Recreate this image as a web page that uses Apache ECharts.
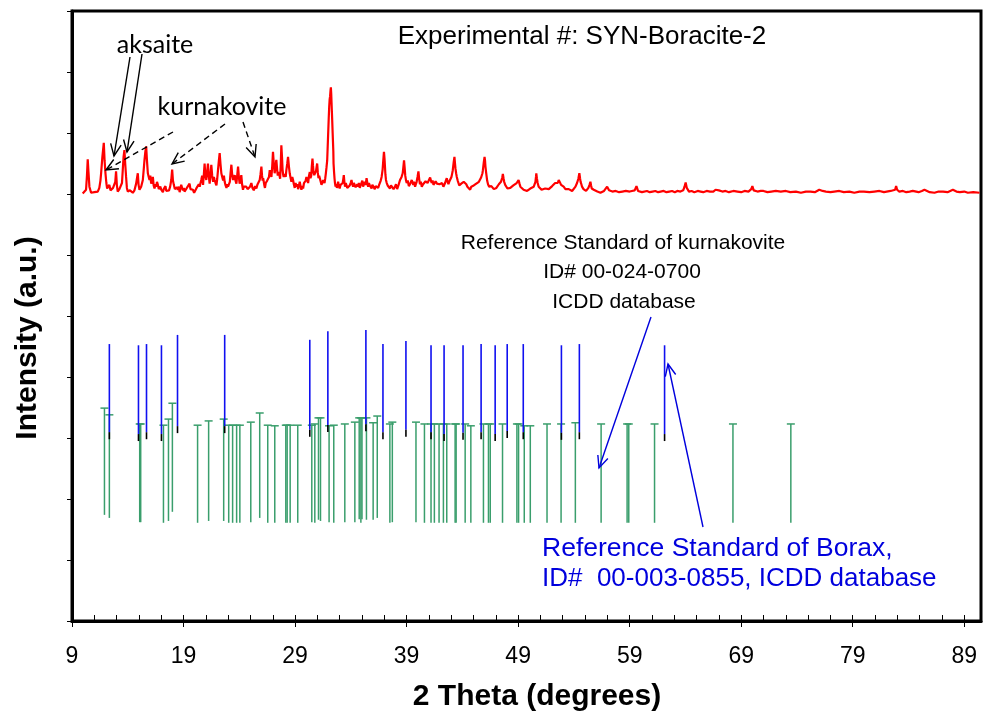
<!DOCTYPE html>
<html>
<head>
<meta charset="utf-8">
<script src="https://cdn.jsdelivr.net/npm/echarts@6/dist/echarts.min.js"></script>
<style>
  body { margin: 0; background: #fff; }
  #chart { width: 988px; height: 717px; }
</style>
</head>
<body>
<div id="chart"></div>
<script>
// experimental pattern, [2theta, intensity]
var expPattern = [
  [9.96,7.01],[10.1,7.03],[10.26,7.07],[10.34,7.30],[10.41,7.57],[10.48,7.35],[10.56,7.12],[10.71,7.02],[10.85,7.04],[11.0,7.03],
  [11.15,7.06],[11.31,7.04],[11.45,7.10],[11.55,7.22],[11.61,7.34],[11.72,7.60],[11.85,7.84],[11.92,7.55],[12.0,7.34],[12.08,7.18],
  [12.15,7.09],[12.25,7.12],[12.35,7.15],[12.45,7.06],[12.56,7.04],[12.68,7.10],[12.8,7.09],[12.88,7.20],[12.95,7.37],[13.02,7.15],
  [13.1,7.04],[13.25,7.08],[13.4,7.07],[13.48,7.18],[13.55,7.39],[13.62,7.60],[13.7,7.72],[13.77,7.50],[13.85,7.28],[13.92,7.10],
  [14.0,7.04],[14.1,7.07],[14.2,7.06],[14.32,7.03],[14.45,7.02],[14.6,7.06],[14.75,7.17],[14.82,7.25],[14.9,7.34],[14.97,7.15],
  [15.05,7.07],[15.2,7.12],[15.35,7.23],[15.43,7.40],[15.5,7.56],[15.58,7.70],[15.65,7.78],[15.72,7.55],[15.8,7.34],[15.88,7.28],
  [15.95,7.23],[16.02,7.30],[16.1,7.17],[16.18,7.22],[16.25,7.28],[16.32,7.14],[16.4,7.09],[16.48,7.16],[16.55,7.12],[16.62,7.20],
  [16.7,7.15],[16.78,7.08],[16.85,7.05],[16.92,7.12],[17.0,7.07],[17.08,7.10],[17.15,7.03],[17.22,7.08],[17.3,7.09],[17.38,7.13],
  [17.45,7.05],[17.52,7.02],[17.6,7.04],[17.7,7.06],[17.8,7.12],[17.9,7.23],[17.98,7.40],[18.05,7.22],[18.13,7.15],[18.22,7.08],
  [18.3,7.05],[18.4,7.11],[18.49,7.07],[18.57,7.12],[18.65,7.03],[18.72,7.09],[18.79,7.15],[18.87,7.10],[18.95,7.06],[19.02,7.10],
  [19.09,7.04],[19.2,7.07],[19.3,7.10],[19.42,7.12],[19.54,7.17],[19.62,7.08],[19.7,7.05],[19.77,7.11],[19.84,7.07],[19.95,7.02],
  [20.05,7.04],[20.17,7.10],[20.29,7.09],[20.37,7.16],[20.45,7.12],[20.52,7.18],[20.59,7.23],[20.67,7.30],[20.75,7.15],[20.82,7.32],
  [20.89,7.50],[20.96,7.30],[21.04,7.23],[21.11,7.35],[21.19,7.50],[21.26,7.30],[21.34,7.17],[21.41,7.30],[21.49,7.48],[21.57,7.30],
  [21.65,7.20],[21.72,7.28],[21.79,7.23],[21.87,7.18],[21.95,7.14],[22.02,7.25],[22.09,7.39],[22.17,7.55],[22.24,7.67],[22.31,7.50],
  [22.39,7.34],[22.47,7.28],[22.55,7.22],[22.62,7.30],[22.69,7.20],[22.77,7.14],[22.85,7.10],[22.92,7.16],[22.99,7.12],[23.07,7.15],
  [23.15,7.20],[23.22,7.35],[23.29,7.48],[23.36,7.32],[23.44,7.23],[23.51,7.26],[23.59,7.31],[23.66,7.22],[23.74,7.17],[23.81,7.30],
  [23.89,7.45],[23.96,7.28],[24.03,7.17],[24.1,7.22],[24.18,7.31],[24.25,7.16],[24.33,7.07],[24.4,7.12],[24.48,7.10],[24.55,7.15],
  [24.63,7.12],[24.74,7.08],[24.85,7.05],[24.96,7.12],[25.08,7.18],[25.18,7.10],[25.3,7.06],[25.42,7.13],[25.53,7.09],[25.62,7.15],
  [25.7,7.12],[25.77,7.18],[25.83,7.23],[25.9,7.32],[25.98,7.45],[26.04,7.30],[26.09,7.22],[26.14,7.26],[26.19,7.23],[26.25,7.14],
  [26.3,7.10],[26.37,7.18],[26.43,7.15],[26.5,7.22],[26.6,7.20],[26.66,7.28],[26.73,7.39],[26.8,7.33],[26.88,7.28],[26.95,7.45],
  [27.02,7.69],[27.1,7.48],[27.17,7.34],[27.25,7.45],[27.32,7.56],[27.39,7.40],[27.45,7.30],[27.5,7.36],[27.56,7.39],[27.61,7.30],
  [27.66,7.25],[27.72,7.50],[27.77,7.80],[27.83,7.60],[27.88,7.40],[27.93,7.32],[27.98,7.28],[28.04,7.33],[28.1,7.35],[28.16,7.28],
  [28.22,7.39],[28.3,7.50],[28.37,7.61],[28.45,7.45],[28.52,7.34],[28.6,7.26],[28.67,7.20],[28.75,7.28],[28.82,7.23],[28.9,7.15],
  [28.97,7.10],[29.05,7.18],[29.12,7.12],[29.2,7.16],[29.27,7.08],[29.35,7.14],[29.42,7.20],[29.5,7.12],[29.57,7.07],[29.65,7.13],
  [29.72,7.09],[29.8,7.18],[29.87,7.15],[29.95,7.22],[30.02,7.28],[30.1,7.22],[30.17,7.18],[30.25,7.30],[30.32,7.36],[30.38,7.26],
  [30.45,7.30],[30.5,7.45],[30.56,7.58],[30.61,7.46],[30.66,7.35],[30.72,7.31],[30.77,7.28],[30.83,7.33],[30.88,7.38],[30.93,7.44],
  [30.98,7.50],[31.04,7.35],[31.1,7.26],[31.16,7.30],[31.22,7.31],[31.3,7.20],[31.37,7.15],[31.45,7.19],[31.52,7.23],[31.58,7.26],
  [31.64,7.18],[31.7,7.25],[31.76,7.34],[31.82,7.44],[31.88,7.55],[31.96,7.95],[32.02,8.25],[32.06,8.43],[32.1,8.55],[32.14,8.60],
  [32.18,8.70],[32.21,8.75],[32.24,8.65],[32.27,8.50],[32.3,8.35],[32.33,8.21],[32.37,8.00],[32.4,7.85],[32.43,7.70],[32.45,7.50],
  [32.5,7.35],[32.54,7.25],[32.58,7.18],[32.63,7.12],[32.7,7.16],[32.75,7.10],[32.8,7.14],[32.86,7.20],[32.93,7.13],[33.0,7.09],
  [33.08,7.15],[33.16,7.12],[33.22,7.14],[33.27,7.18],[33.32,7.24],[33.37,7.31],[33.42,7.20],[33.48,7.12],[33.55,7.18],[33.61,7.15],
  [33.68,7.10],[33.75,7.07],[33.82,7.12],[33.9,7.14],[33.98,7.18],[34.06,7.23],[34.13,7.16],[34.2,7.12],[34.27,7.18],[34.35,7.15],
  [34.43,7.11],[34.51,7.09],[34.58,7.16],[34.65,7.12],[34.72,7.18],[34.8,7.10],[34.88,7.14],[34.96,7.17],[35.03,7.22],[35.1,7.12],
  [35.18,7.16],[35.25,7.20],[35.33,7.15],[35.41,7.26],[35.48,7.18],[35.55,7.12],[35.62,7.18],[35.7,7.14],[35.78,7.11],[35.86,7.09],
  [35.93,7.15],[36.0,7.12],[36.08,7.16],[36.15,7.08],[36.23,7.13],[36.31,7.15],[36.38,7.12],[36.45,7.10],[36.52,7.14],[36.6,7.16],
  [36.68,7.22],[36.76,7.28],[36.85,7.40],[36.91,7.55],[36.97,7.69],[37.02,7.58],[37.06,7.45],[37.1,7.32],[37.15,7.23],[37.22,7.18],
  [37.3,7.14],[37.4,7.16],[37.51,7.09],[37.6,7.14],[37.7,7.12],[37.83,7.08],[37.96,7.12],[38.05,7.16],[38.15,7.08],[38.28,7.15],
  [38.41,7.23],[38.48,7.20],[38.55,7.28],[38.6,7.25],[38.65,7.34],[38.71,7.44],[38.77,7.55],[38.83,7.42],[38.88,7.30],[38.95,7.22],
  [39.01,7.18],[39.1,7.22],[39.2,7.13],[39.33,7.17],[39.46,7.23],[39.53,7.19],[39.6,7.15],[39.68,7.20],[39.76,7.12],[39.83,7.16],
  [39.9,7.20],[39.98,7.28],[40.06,7.37],[40.13,7.24],[40.2,7.16],[40.28,7.20],[40.36,7.12],[40.48,7.16],[40.6,7.18],[40.7,7.21],
  [40.81,7.23],[40.88,7.18],[40.95,7.15],[41.03,7.20],[41.11,7.27],[41.18,7.22],[41.25,7.18],[41.33,7.22],[41.41,7.15],[41.5,7.18],
  [41.6,7.21],[41.72,7.17],[41.85,7.20],[41.95,7.16],[42.05,7.14],[42.18,7.18],[42.3,7.12],[42.38,7.15],[42.45,7.18],[42.52,7.22],
  [42.6,7.26],[42.68,7.20],[42.75,7.16],[42.82,7.20],[42.9,7.18],[42.96,7.22],[43.02,7.28],[43.08,7.33],[43.14,7.39],[43.22,7.52],
  [43.29,7.61],[43.34,7.50],[43.38,7.42],[43.44,7.34],[43.5,7.28],[43.58,7.22],[43.65,7.18],[43.72,7.14],[43.8,7.12],[43.9,7.17],
  [44.0,7.15],[44.12,7.20],[44.25,7.23],[44.35,7.16],[44.45,7.12],[44.58,7.10],[44.7,7.07],[44.8,7.12],[44.9,7.10],[45.02,7.14],
  [45.15,7.12],[45.25,7.17],[45.35,7.15],[45.48,7.20],[45.6,7.23],[45.68,7.27],[45.75,7.30],[45.8,7.34],[45.84,7.39],[45.92,7.52],
  [45.99,7.61],[46.03,7.55],[46.07,7.45],[46.1,7.40],[46.14,7.34],[46.22,7.22],[46.3,7.16],[46.4,7.12],[46.5,7.09],[46.6,7.13],
  [46.7,7.10],[46.82,7.08],[46.95,7.07],[47.05,7.10],[47.15,7.12],[47.27,7.16],[47.39,7.18],[47.46,7.20],[47.52,7.22],[47.58,7.27],
  [47.63,7.33],[47.69,7.26],[47.75,7.20],[47.84,7.15],[47.93,7.12],[48.04,7.09],[48.15,7.06],[48.3,7.10],[48.44,7.09],[48.57,7.14],
  [48.7,7.12],[48.87,7.18],[49.04,7.23],[49.12,7.17],[49.2,7.12],[49.35,7.09],[49.49,7.07],[49.65,7.09],[49.8,7.05],[49.95,7.08],
  [50.09,7.09],[50.25,7.10],[50.4,7.12],[50.48,7.16],[50.55,7.20],[50.6,7.28],[50.63,7.34],[50.68,7.26],[50.75,7.18],[50.84,7.12],
  [50.93,7.09],[51.1,7.07],[51.25,7.06],[51.42,7.09],[51.59,7.07],[51.75,7.08],[51.9,7.10],[52.05,7.13],[52.19,7.15],[52.32,7.18],
  [52.45,7.20],[52.55,7.18],[52.64,7.23],[52.75,7.19],[52.85,7.15],[52.96,7.14],[53.08,7.12],[53.24,7.08],[53.4,7.06],[53.54,7.08],
  [53.68,7.07],[53.84,7.05],[54.0,7.08],[54.14,7.12],[54.28,7.18],[54.4,7.25],[54.49,7.34],[54.55,7.26],[54.6,7.20],[54.67,7.16],
  [54.73,7.12],[54.86,7.08],[55.0,7.06],[55.09,7.05],[55.18,7.07],[55.3,7.10],[55.4,7.15],[55.48,7.20],[55.54,7.14],[55.6,7.09],
  [55.7,7.08],[55.78,7.07],[55.95,7.05],[56.1,7.04],[56.24,7.05],[56.38,7.02],[56.55,7.04],[56.7,7.05],[56.85,7.08],[56.98,7.12],
  [57.15,7.06],[57.3,7.05],[57.45,7.04],[57.58,7.07],[57.75,7.05],[57.9,7.04],[58.05,7.03],[58.18,7.05],[58.35,7.04],[58.5,7.03],
  [58.65,7.05],[58.78,7.02],[59.0,7.04],[59.2,7.05],[59.45,7.06],[59.61,7.13],[59.75,7.05],[59.9,7.04],[60.1,7.03],[60.27,7.04],
  [60.55,7.05],[60.8,7.03],[61.05,7.04],[61.3,7.05],[61.55,7.03],[61.77,7.04],[62.05,7.05],[62.3,7.03],[62.55,7.04],[62.8,7.05],
  [63.05,7.03],[63.27,7.05],[63.55,7.04],[63.8,7.06],[63.92,7.12],[64.02,7.19],[64.12,7.10],[64.32,7.04],[64.55,7.05],[64.8,7.03],
  [65.1,7.05],[65.36,7.04],[65.6,7.03],[65.9,7.05],[66.2,7.04],[66.5,7.04],[66.7,7.07],[66.86,7.10],[67.0,7.06],[67.31,7.04],
  [67.6,7.05],[67.9,7.03],[68.3,7.05],[68.66,7.04],[69.0,7.03],[69.3,7.05],[69.65,7.04],[69.9,7.08],[70.0,7.13],[70.12,7.06],
  [70.46,7.04],[70.75,7.05],[71.0,7.05],[71.35,7.03],[71.7,7.04],[72.1,7.05],[72.55,7.04],[73.0,7.05],[73.4,7.03],[73.9,7.04],
  [74.35,7.02],[74.8,7.04],[75.2,7.04],[75.6,7.03],[76.0,7.07],[76.3,7.05],[76.6,7.04],[77.0,7.03],[77.34,7.04],[77.8,7.05],
  [78.2,7.03],[78.7,7.04],[79.14,7.02],[79.6,7.04],[80.0,7.04],[80.5,7.03],[80.94,7.04],[81.4,7.05],[81.8,7.03],[82.4,7.05],
  [82.8,7.07],[82.89,7.13],[82.98,7.07],[83.18,7.04],[83.5,7.05],[83.8,7.03],[84.1,7.04],[84.38,7.05],[84.9,7.03],[85.2,7.05],
  [85.43,7.07],[85.9,7.03],[86.33,7.02],[86.7,7.04],[87.1,7.04],[87.5,7.03],[87.98,7.07],[88.3,7.04],[88.6,7.03],[89.0,7.04],
  [89.32,7.02],[89.8,7.03],[90.37,7.02]
];

// Borax reference sticks (ICDD 00-003-0855)
var borax2Theta = [12.35, 14.96, 15.68, 17.02, 18.46, 22.69, 30.32, 31.94, 35.35, 36.88, 38.94,
  41.19, 42.36, 44.06, 45.68, 46.94, 48.02, 49.46, 52.88, 54.49, 62.13];
var boraxTop = [4.54, 4.52, 4.54, 4.52, 4.69, 4.69, 4.61, 4.75, 4.77, 4.54, 4.59,
  4.52, 4.52, 4.52, 4.54, 4.52, 4.54, 4.54, 4.52, 4.54, 4.52];
var boraxBase = [2.98, 2.95, 2.98, 2.95, 3.08, 3.08, 3.02, 3.10, 3.11, 2.98, 3.02,
  2.98, 2.95, 2.97, 2.98, 2.95, 3.00, 2.98, 2.97, 2.98, 2.95];

// kurnakovite reference sticks (ICDD 00-024-0700)
var kurn2Theta = [11.91, 12.35, 15.07, 15.16, 17.2, 17.65, 18.0, 20.26, 21.25, 22.6, 23.05, 23.4, 23.76, 24.05,
  25.03, 25.83, 26.55, 27.18, 28.17, 28.29, 28.56, 29.24, 30.5, 30.77, 31.1, 31.28, 32.05, 32.47, 33.46,
  34.36, 34.75, 34.9, 35.0, 35.4, 36.0, 36.37, 37.5, 37.72, 39.84, 40.6, 41.19, 41.49, 41.91, 42.3, 42.6,
  43.35, 43.44, 44.25, 44.76, 45.89, 46.34, 46.5, 47.6, 48.89, 49.04, 49.55, 50.09, 51.59, 52.85, 54.13,
  56.44, 58.77, 58.92, 61.23, 68.26, 73.45];
var kurnTop = [3.49, 3.38, 3.23, 3.23, 3.21, 3.31, 3.57, 3.21, 3.28, 3.31, 3.21, 3.21, 3.21, 3.21,
  3.26, 3.41, 3.21, 3.20, 3.21, 3.21, 3.21, 3.21, 3.21, 3.23, 3.33, 3.33, 3.20, 3.21, 3.23,
  3.26, 3.33, 3.33, 3.33, 3.33, 3.25, 3.36, 3.23, 3.26, 3.26, 3.23, 3.23, 3.23, 3.23, 3.23, 3.23,
  3.23, 3.23, 3.23, 3.20, 3.23, 3.23, 3.23, 3.23, 3.23, 3.23, 3.20, 3.20, 3.23, 3.23, 3.25,
  3.23, 3.23, 3.23, 3.23, 3.23, 3.23];
var kurnBottom = [1.74, 1.69, 1.62, 1.62, 1.61, 1.64, 1.79, 1.61, 1.64, 1.64, 1.61, 1.61, 1.61, 1.61,
  1.62, 1.69, 1.61, 1.61, 1.61, 1.61, 1.61, 1.61, 1.62, 1.61, 1.66, 1.64, 1.62, 1.61, 1.62,
  1.62, 1.67, 1.61, 1.67, 1.66, 1.66, 1.69, 1.61, 1.62, 1.62, 1.61, 1.61, 1.61, 1.61, 1.61, 1.61,
  1.61, 1.61, 1.61, 1.61, 1.61, 1.61, 1.61, 1.61, 1.61, 1.61, 1.61, 1.61, 1.61, 1.61, 1.61,
  1.61, 1.61, 1.61, 1.61, 1.61, 1.61];

var xTicks = { min: 9, max: 90.5, major: 10, minor: 2 };

var FONT = '"Liberation Sans", Arial, sans-serif';
var CAL = 'Lato, "Open Sans", sans-serif';

function stickRender(color, withCap, withFoot) {
  return function (params, api) {
    var top = api.coord([api.value(0), api.value(1)]);
    var bot = api.coord([api.value(0), api.value(2)]);
    var kids = [];
    if (withFoot) {
      kids.push({ type: 'line', shape: { x1: top[0], y1: top[1], x2: bot[0], y2: bot[1] - 7 },
        style: { stroke: color, lineWidth: 1.6 } });
      kids.push({ type: 'line', shape: { x1: bot[0], y1: bot[1] - 7, x2: bot[0], y2: bot[1] },
        style: { stroke: '#000', lineWidth: 1.6 } });
    } else {
      kids.push({ type: 'line', shape: { x1: top[0], y1: top[1], x2: bot[0], y2: bot[1] },
        style: { stroke: color, lineWidth: 1.5 } });
    }
    if (withCap) {
      kids.push({ type: 'line', shape: { x1: top[0] - 4, y1: top[1], x2: top[0] + 4, y2: top[1] },
        style: { stroke: color, lineWidth: 1.5 } });
    }
    return { type: 'group', children: kids };
  };
}

function arrow(x1, y1, x2, y2, color, dashed) {
  var ang = Math.atan2(y2 - y1, x2 - x1), L = 13, a = 0.42;
  var p1 = [x2 - L * Math.cos(ang - a), y2 - L * Math.sin(ang - a)];
  var p2 = [x2 - L * Math.cos(ang + a), y2 - L * Math.sin(ang + a)];
  return [
    { type: 'line', z: 100, shape: { x1: x1, y1: y1, x2: x2, y2: y2 },
      style: { stroke: color, lineWidth: 1.4, lineDash: dashed ? [6, 4] : null } },
    { type: 'polyline', z: 100, shape: { points: [p1, [x2, y2], p2] },
      style: { stroke: color, lineWidth: 1.4, fill: null } }
  ];
}

function label(text, x, y, font, color, align) {
  return { type: 'text', z: 100, style: { text: text, x: x, y: y, textAlign: align || 'center',
    textVerticalAlign: 'middle', font: font, fill: color || '#000' } };
}

var boraxData = borax2Theta.map(function (t, i) { return [t, boraxTop[i], boraxBase[i]]; });
var kurnData = kurn2Theta.map(function (t, i) { return [t, kurnTop[i], kurnBottom[i]]; });

var graphics = []
  .concat(arrow(130, 57, 114, 156, '#000', false))
  .concat(arrow(142, 54, 127, 152, '#000', false))
  .concat(arrow(173, 132, 106, 170, '#000', true))
  .concat(arrow(225, 124, 172, 164, '#000', true))
  .concat(arrow(243, 122, 255, 157, '#000', true))
  .concat(arrow(651, 317, 599, 468, '#0000dd', false))
  .concat(arrow(703, 527, 668, 364, '#0000dd', false));
graphics.push(label('Experimental #: SYN-Boracite-2', 582, 37, '26px ' + FONT));
graphics.push(label('aksaite', 155, 45, '25px ' + CAL));
graphics.push(label('kurnakovite', 222, 107, '25px ' + CAL));
graphics.push(label('Reference Standard of kurnakovite', 623, 243, '21px ' + FONT));
graphics.push(label('ID# 00-024-0700', 622, 272, '21px ' + FONT));
graphics.push(label('ICDD database', 624, 302, '21px ' + FONT));
graphics.push(label('Reference Standard of Borax,', 542, 549, '26.5px ' + FONT, '#0000dd', 'left'));
graphics.push(label('ID#  00-003-0855, ICDD database', 542, 579, '26px ' + FONT, '#0000dd', 'left'));
// axis titles
graphics.push(label('2 Theta (degrees)', 537, 697, 'bold 30px ' + FONT));
graphics.push({ type: 'text', z: 100, x: 28, y: 338, rotation: Math.PI / 2,
  style: { text: 'Intensity (a.u.)', x: 0, y: 0, textAlign: 'center', textVerticalAlign: 'middle',
    font: 'bold 30px ' + FONT, fill: '#000' } });

var myChart = echarts.init(document.getElementById('chart'));
var option = {
  animation: false,
  grid: { left: 72, right: 7, top: 11, bottom: 96, outerBoundsMode: 'none', containLabel: false,
    show: true, borderColor: '#000', borderWidth: 3 },
  xAxis: [
    {
      type: 'value', min: xTicks.min, max: xTicks.max, interval: xTicks.major,
      axisLine: { lineStyle: { color: '#000', width: 3 } },
      axisTick: { inside: false, length: 6, lineStyle: { color: '#000', width: 1 } },
      axisLabel: { color: '#000', fontFamily: FONT, fontSize: 23, margin: 24, showMaxLabel: false },
      splitLine: { show: false }
    },
    {
      type: 'value', min: xTicks.min, max: xTicks.max, interval: xTicks.minor, position: 'bottom',
      axisLine: { show: false },
      axisTick: { inside: true, length: 6, lineStyle: { color: '#000', width: 1 } },
      axisLabel: { show: false },
      splitLine: { show: false }
    }
  ],
  yAxis: {
    type: 'value', min: 0, max: 10, interval: 1,
    axisLine: { show: true, lineStyle: { color: '#000', width: 3 } },
    axisTick: { show: true, inside: false, length: 5, lineStyle: { color: '#000', width: 1 } },
    axisLabel: { show: false },
    splitLine: { show: false }
  },
  series: [
    {
      name: 'kurnakovite', type: 'custom', xAxisIndex: 0, data: kurnData,
      renderItem: stickRender('#3a9e6c', true, false), z: 2
    },
    {
      name: 'Borax', type: 'custom', xAxisIndex: 0, data: boraxData,
      renderItem: stickRender('#1010f0', false, true), z: 3
    },
    {
      name: 'SYN-Boracite-2', type: 'line', xAxisIndex: 0, data: expPattern,
      showSymbol: false, lineStyle: { color: '#ff0000', width: 2.2 }, z: 4
    }
  ],
  graphic: graphics
};
myChart.setOption(option);
</script>
</body>
</html>
